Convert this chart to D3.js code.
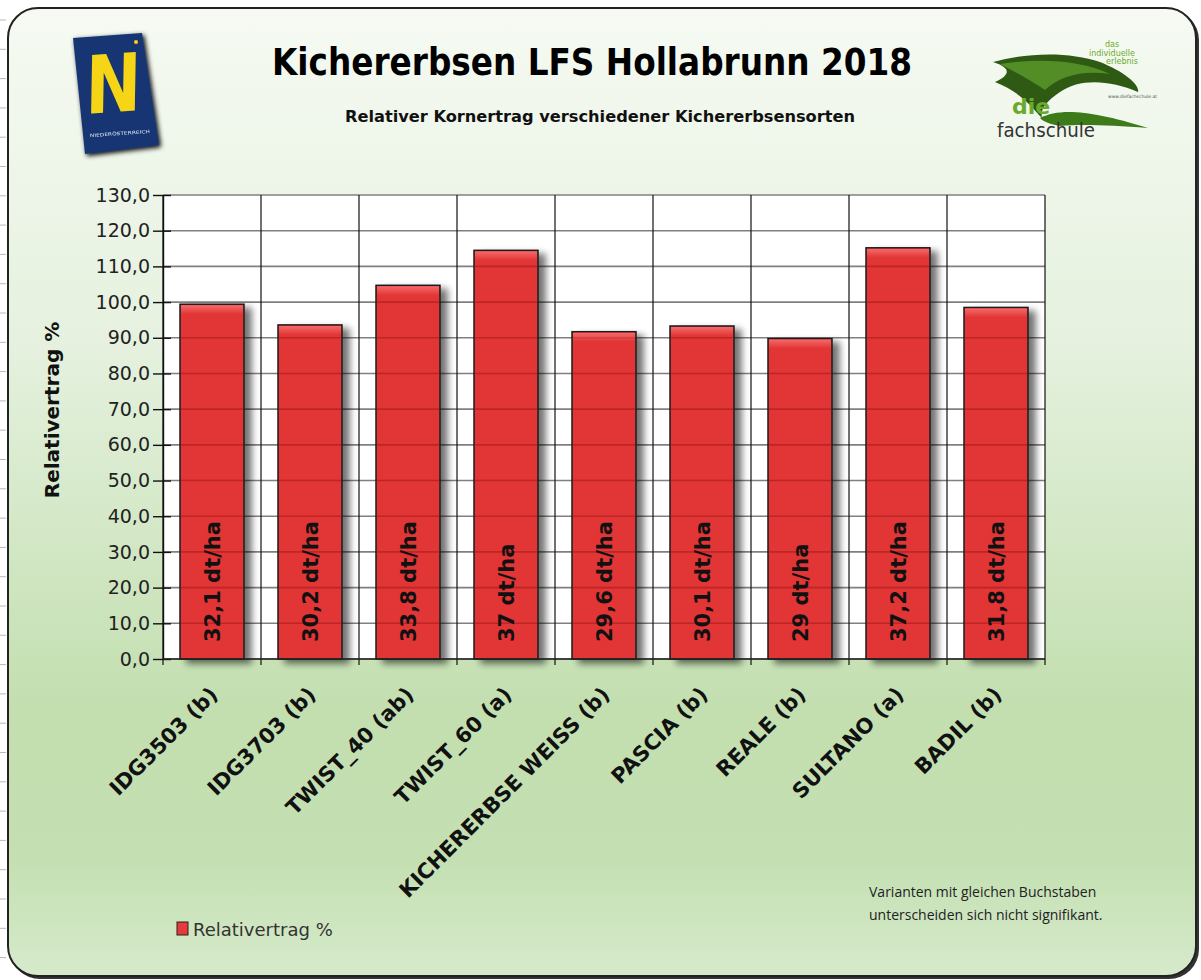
<!DOCTYPE html>
<html>
<head>
<meta charset="utf-8">
<script src="https://cdnjs.cloudflare.com/ajax/libs/d3/7.8.5/d3.min.js"></script>
<style>
  body { margin: 0; background: #fff; }
  svg { display: block; }
</style>
</head>
<body>
<svg id="chart" width="1201" height="980"></svg>
<script>
// data
var sorten = ["IDG3503 (b)","IDG3703 (b)","TWIST_40 (ab)","TWIST_60 (a)","KICHERERBSE WEISS (b)","PASCIA (b)","REALE (b)","SULTANO (a)","BADIL (b)"];
var relativ = [99.4, 93.6, 104.7, 114.5, 91.7, 93.3, 89.8, 115.2, 98.5];
var ertragLabels = ["32,1 dt/ha","30,2 dt/ha","33,8 dt/ha","37 dt/ha","29,6 dt/ha","30,1 dt/ha","29 dt/ha","37,2 dt/ha","31,8 dt/ha"];
var yTicks = [0,10,20,30,40,50,60,70,80,90,100,110,120,130];

var titel = "Kichererbsen LFS Hollabrunn 2018";
var untertitel = "Relativer Kornertrag verschiedener Kichererbsensorten";
var legendeText = "Relativertrag %";
var fussnote = ["Varianten mit gleichen Buchstaben","unterscheiden sich nicht signifikant."];

var svg = d3.select("#chart");
var defs = svg.append("defs");

// background gradient
var bg = defs.append("linearGradient").attr("id","bgGrad").attr("x1",0).attr("y1",0).attr("x2",0).attr("y2",1);
bg.append("stop").attr("offset","0%").attr("stop-color","#f6faf3");
bg.append("stop").attr("offset","35%").attr("stop-color","#e5f1de");
bg.append("stop").attr("offset","72%").attr("stop-color","#c3dfb0");
bg.append("stop").attr("offset","88%").attr("stop-color","#c4e0b2");
bg.append("stop").attr("offset","100%").attr("stop-color","#d6eacb");

var hl = defs.append("linearGradient").attr("id","barTop").attr("x1",0).attr("y1",0).attr("x2",0).attr("y2",1);
hl.append("stop").attr("offset","0%").attr("stop-color","#ff8080").attr("stop-opacity",0.7);
hl.append("stop").attr("offset","100%").attr("stop-color","#ff8080").attr("stop-opacity",0);

var sh = defs.append("filter").attr("id","shadow").attr("x","-20%").attr("y","-20%").attr("width","160%").attr("height","140%");
sh.append("feGaussianBlur").attr("in","SourceAlpha").attr("stdDeviation",3.5).attr("result","b");
sh.append("feOffset").attr("in","b").attr("dx",7).attr("dy",4).attr("result","o");
sh.append("feComponentTransfer").attr("in","o").attr("result","s")
  .append("feFuncA").attr("type","linear").attr("slope",0.55);
var mg = sh.append("feMerge");
mg.append("feMergeNode").attr("in","s");
mg.append("feMergeNode").attr("in","SourceGraphic");

var logoShadow = defs.append("filter").attr("id","logoShadow").attr("x","-30%").attr("y","-30%").attr("width","160%").attr("height","160%");
logoShadow.append("feGaussianBlur").attr("in","SourceAlpha").attr("stdDeviation",2.5).attr("result","b");
logoShadow.append("feOffset").attr("in","b").attr("dx",2).attr("dy",2).attr("result","o");
var lm = logoShadow.append("feMerge");
lm.append("feMergeNode").attr("in","o");
lm.append("feMergeNode").attr("in","SourceGraphic");

// ruler marks outside the frame
for(var t=20;t<980;t+=29.3){
  svg.append("line").attr("x1",0).attr("x2",6).attr("y1",t).attr("y2",t)
    .attr("stroke","#b8b8b8").attr("stroke-width",1);
}

// frame
svg.append("rect").attr("x",10).attr("y",10).attr("width",1189).attr("height",969).attr("rx",30)
  .attr("fill","#333");
svg.append("rect").attr("x",8).attr("y",8).attr("width",1188).attr("height",968).attr("rx",30)
  .attr("fill","url(#bgGrad)").attr("stroke","#222").attr("stroke-width",2);

// plot area
var plotLeft = 163, plotRight = 1045, plotTop = 195, plotBottom = 659;

var x = d3.scaleBand().domain(sorten).range([plotLeft,plotRight]).paddingInner(0.347).paddingOuter(0.1735);
var y = d3.scaleLinear().domain([0,130]).range([plotBottom,plotTop]);

svg.append("rect").attr("x",plotLeft).attr("y",plotTop).attr("width",plotRight-plotLeft).attr("height",plotBottom-plotTop).attr("fill","#fff");

// horizontal grid
svg.append("g").selectAll("line").data(yTicks).join("line")
  .attr("x1",plotLeft).attr("x2",plotRight)
  .attr("y1",d => y(d)).attr("y2",d => y(d))
  .attr("stroke","#808080").attr("stroke-width",1.6);

// vertical grid at band boundaries
var step = x.step();
var bounds = d3.range(sorten.length+1).map(i => plotLeft + i*step);
svg.append("g").selectAll("line").data(bounds).join("line")
  .attr("x1",d => d).attr("x2",d => d)
  .attr("y1",plotTop).attr("y2",plotBottom+6)
  .attr("stroke","#111").attr("stroke-width",1.2);

// bars
var bars = svg.append("g");
bars.selectAll("rect.bar").data(relativ).join("rect")
  .attr("class","bar")
  .attr("x",(d,i) => x(sorten[i]))
  .attr("y",d => y(d))
  .attr("width",x.bandwidth())
  .attr("height",d => plotBottom - y(d))
  .attr("fill","#e23636")
  .attr("stroke","#1a1a1a").attr("stroke-width",1.5)
  .attr("filter","url(#shadow)");

// gridlines shining through the bars
bars.selectAll("g.through").data(relativ).join("g")
  .attr("class","through")
  .each(function(v,i){
    d3.select(this).selectAll("line").data(yTicks.filter(tk => tk > 0 && tk < v)).join("line")
      .attr("x1",x(sorten[i]) + 1).attr("x2",x(sorten[i]) + x.bandwidth() - 1)
      .attr("y1",tk => y(tk)).attr("y2",tk => y(tk))
      .attr("stroke","#7a0a0a").attr("stroke-opacity",0.35).attr("stroke-width",1.6);
  });

bars.selectAll("rect.hl").data(relativ).join("rect")
  .attr("class","hl")
  .attr("x",(d,i) => x(sorten[i]) + 1)
  .attr("y",d => y(d) + 1)
  .attr("width",x.bandwidth() - 2)
  .attr("height",9)
  .attr("fill","url(#barTop)");

// bar labels
bars.selectAll("text").data(ertragLabels).join("text")
  .attr("transform",(d,i) => "translate(" + (x(sorten[i]) + x.bandwidth()/2) + "," + 642 + ") rotate(-90)")
  .attr("dy","0.36em")
  .attr("font-family","DejaVu Sans, Verdana, sans-serif")
  .attr("font-weight","bold").attr("font-size",21).attr("fill","#111")
  .text(d => d);

// y axis
var yAxis = svg.append("g").attr("transform","translate(" + plotLeft + ",0)")
  .call(d3.axisLeft(y).tickValues(yTicks).tickSize(0).tickPadding(13)
    .tickFormat(d => d3.format(".1f")(d).replace(".",",")));
yAxis.select(".domain").attr("stroke","#111").attr("stroke-width",1.4);
yAxis.selectAll("text").attr("font-family","DejaVu Sans, Verdana, sans-serif").attr("font-size",19).attr("fill","#222");
yAxis.selectAll(".tick").append("line").attr("x1",-10).attr("x2",8).attr("stroke","#111").attr("stroke-width",1.4);

// x axis
var xAxis = svg.append("g").attr("transform","translate(0," + plotBottom + ")");
xAxis.append("line").attr("x1",plotLeft).attr("x2",plotRight).attr("stroke","#222").attr("stroke-width",1.6);
xAxis.selectAll("text").data(sorten).join("text")
  .attr("transform",d => "translate(" + (x(d) + x.bandwidth()/2 + 7) + ",37) rotate(-45)")
  .attr("text-anchor","end")
  .attr("font-family","DejaVu Sans, Verdana, sans-serif")
  .attr("font-weight","bold").attr("font-size",21).attr("fill","#111")
  .text(d => d);

// y axis title
svg.append("text").attr("transform","translate(59,410) rotate(-90)")
  .attr("text-anchor","middle")
  .attr("font-family","DejaVu Sans, Verdana, sans-serif")
  .attr("font-weight","bold").attr("font-size",20).attr("fill","#111")
  .text(legendeText);

// titles
svg.append("text").attr("x",592).attr("y",75).attr("text-anchor","middle")
  .attr("font-family","DejaVu Sans Condensed, DejaVu Sans, sans-serif")
  .attr("font-weight","bold").attr("font-size",37).attr("fill","#000")
  .attr("textLength",640).attr("lengthAdjust","spacingAndGlyphs")
  .text(titel);
svg.append("text").attr("x",600).attr("y",122).attr("text-anchor","middle")
  .attr("font-family","DejaVu Sans Condensed, DejaVu Sans, sans-serif")
  .attr("font-weight","bold").attr("font-size",16).attr("fill","#111")
  .attr("textLength",510).attr("lengthAdjust","spacingAndGlyphs")
  .text(untertitel);

// legend
svg.append("rect").attr("x",177).attr("y",922).attr("width",11).attr("height",13)
  .attr("fill","#e83a3a").attr("stroke","#222").attr("stroke-width",1);
svg.append("text").attr("x",193).attr("y",936)
  .attr("font-family","DejaVu Sans, Verdana, sans-serif").attr("font-size",18).attr("fill","#333")
  .text(legendeText);

// footnote
svg.append("g").selectAll("text").data(fussnote).join("text")
  .attr("x",869).attr("y",(d,i) => 897 + i*23)
  .attr("font-family","Open Sans, Noto Sans, sans-serif").attr("font-size",14).attr("fill","#222")
  .text(d => d);

// Niederoesterreich logo
var noe = svg.append("g").attr("filter","url(#logoShadow)");
noe.append("path").attr("d","M73,38 L142,33 L159,145 L85,154 Z").attr("fill","#173672");
noe.append("text").attr("transform","translate(113,112) rotate(-4) skewX(-5)")
  .attr("text-anchor","middle")
  .attr("font-family","DejaVu Sans, sans-serif").attr("font-weight","bold").attr("font-size",80)
  .attr("fill","#f6d417").attr("textLength",56).attr("lengthAdjust","spacingAndGlyphs")
  .text("N");
noe.append("circle").attr("cx",136).attr("cy",42).attr("r",2).attr("fill","#f6d417");
noe.append("text").attr("transform","translate(120,135) rotate(-4)")
  .attr("text-anchor","middle")
  .attr("font-family","DejaVu Sans, sans-serif").attr("font-size",4.5).attr("fill","#dfe6f5")
  .attr("textLength",60).attr("lengthAdjust","spacingAndGlyphs")
  .text("NIEDERÖSTERREICH");

// die fachschule logo
var fs = svg.append("g");
fs.append("path").attr("d","M993,62 C1030,52 1070,52 1100,62 C1125,72 1140,85 1138,92 C1110,80 1080,78 1060,92 C1045,102 1040,110 1042,118 C1030,105 1020,92 995,82 C1010,75 1012,68 993,62 Z")
  .attr("fill","#2f5a14");
fs.append("path").attr("d","M1000,64 C1040,58 1080,60 1110,74 C1085,70 1060,75 1045,90 C1030,80 1015,72 1000,64 Z")
  .attr("fill","#5d9a2a").attr("opacity",0.8);
fs.append("path").attr("d","M1040,118 C1060,108 1090,110 1148,128 C1110,125 1080,124 1060,126 C1050,124 1044,122 1040,118 Z")
  .attr("fill","#3d7a1a");
fs.append("text").attr("x",1112).attr("y",47).attr("text-anchor","middle")
  .attr("font-family","DejaVu Sans, sans-serif").attr("font-size",8).attr("fill","#6aaa2a").text("das");
fs.append("text").attr("x",1112).attr("y",56).attr("text-anchor","middle")
  .attr("font-family","DejaVu Sans, sans-serif").attr("font-size",8).attr("fill","#6aaa2a").text("individuelle");
fs.append("text").attr("x",1122).attr("y",64).attr("text-anchor","middle")
  .attr("font-family","DejaVu Sans, sans-serif").attr("font-size",8).attr("fill","#6aaa2a").text("erlebnis");
fs.append("text").attr("x",1108).attr("y",98)
  .attr("font-family","DejaVu Sans, sans-serif").attr("font-size",4.5).attr("fill","#555").text("www.diefachschule.at");
fs.append("text").attr("x",1012).attr("y",114)
  .attr("font-family","DejaVu Sans, sans-serif").attr("font-weight","bold").attr("font-size",22).attr("fill","#6aaa2a").text("die");
fs.append("text").attr("x",997).attr("y",137)
  .attr("font-family","DejaVu Sans, sans-serif").attr("font-size",19).attr("fill","#333")
  .attr("textLength",98).attr("lengthAdjust","spacingAndGlyphs").text("fachschule");
</script>
</body>
</html>
